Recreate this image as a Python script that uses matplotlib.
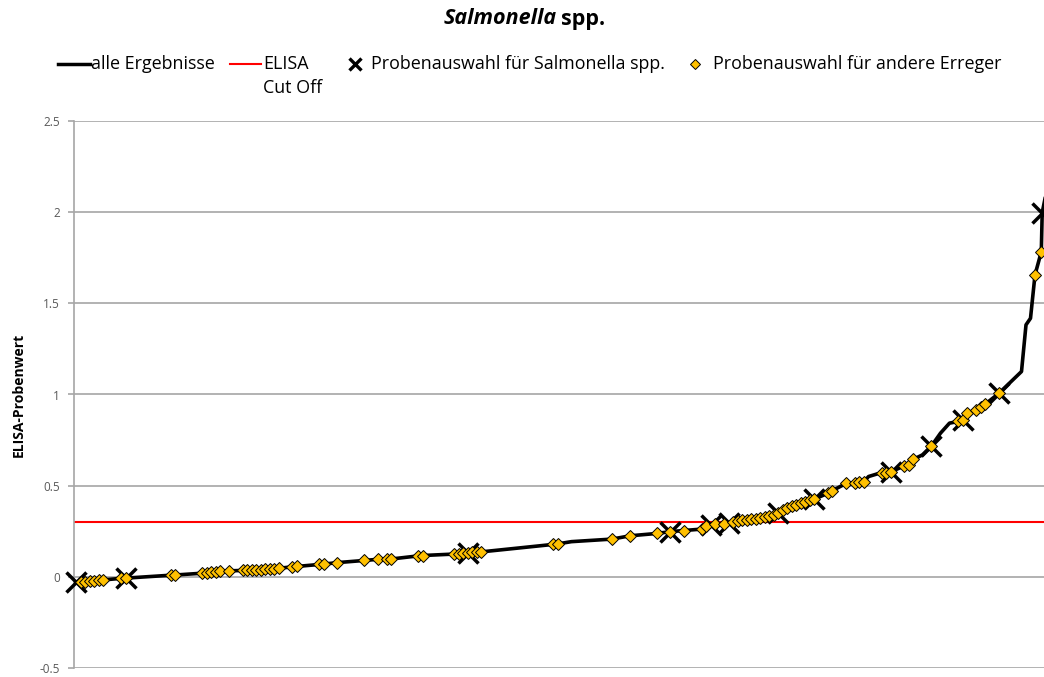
import numpy as np
import matplotlib
matplotlib.use("Agg")
import matplotlib.pyplot as plt
from matplotlib.lines import Line2D
from matplotlib.ticker import FuncFormatter

plt.rcParams['font.family'] = ['Open Sans', 'DejaVu Sans']

# Probenauswahl fuer Salmonella spp. (Rang, ELISA-Wert)
sal_x = [1, 12, 88, 133, 142, 146, 157, 165, 182, 191, 198, 206, 215.6]
sal_y = [-0.031, -0.007, 0.132, 0.248, 0.285, 0.296, 0.350, 0.426, 0.576, 0.718, 0.861, 1.007, 1.997]

# Probenauswahl fuer andere Erreger
other_x = [2, 3, 4, 5, 6, 7, 11, 12, 22, 23, 29, 30, 31, 32, 33, 35,
           38, 39, 40, 41, 42, 43, 44, 45, 46, 49, 50, 55, 56, 59, 65,
           68, 70, 71, 77, 78, 85, 86, 87, 88, 89, 90, 91, 107, 108,
           120, 124, 130, 133, 136, 140, 141, 143, 145, 147, 148, 149,
           150, 151, 152, 153, 154, 155, 156, 157, 158, 159, 160, 161,
           162, 163, 164, 165, 168, 169, 172, 174, 175, 176, 180, 181,
           182, 185, 186, 187, 191, 197, 198, 199, 201, 202, 203, 206,
           214, 215.4]
other_y = [-0.030, -0.028, -0.025, -0.022, -0.020, -0.017, -0.008, -0.007,
           0.009, 0.010, 0.020, 0.023, 0.026, 0.029, 0.032, 0.033,
           0.035, 0.036, 0.037, 0.038, 0.039, 0.041, 0.043, 0.045, 0.047,
           0.055, 0.057, 0.068, 0.070, 0.078, 0.090,
           0.096, 0.097, 0.098, 0.115, 0.117, 0.125, 0.127, 0.130, 0.132,
           0.134, 0.136, 0.137, 0.178, 0.181,
           0.207, 0.225, 0.238, 0.248, 0.254, 0.262, 0.280, 0.290, 0.292,
           0.300, 0.305, 0.309,
           0.312, 0.316, 0.318, 0.322, 0.326, 0.332, 0.340, 0.350, 0.364,
           0.377, 0.387, 0.394,
           0.405, 0.413, 0.420, 0.426, 0.459, 0.473, 0.512, 0.515, 0.518,
           0.521, 0.568, 0.572,
           0.576, 0.609, 0.614, 0.645, 0.718, 0.852, 0.861, 0.897, 0.916,
           0.934, 0.948, 1.007,
           1.656, 1.783]

# weitere Ergebnisse ohne Markierung (nur Linie)
rest_x = [100, 111, 177, 179, 189, 193, 195, 211, 212, 213, 217]
rest_y = [0.160, 0.193, 0.550, 0.565, 0.669, 0.788, 0.843, 1.126, 1.382, 1.418, 2.17]

cutoff = 0.3

# alle Ergebnisse sortiert
pts = {}
for xs, ys in [(rest_x, rest_y), (other_x, other_y), (sal_x, sal_y)]:
    for a, b in zip(xs, ys):
        pts[a] = b
all_x = sorted(pts)
all_y = [pts[k] for k in all_x]

fig = plt.figure(figsize=(10.44, 6.77), dpi=100)
ax = fig.add_axes([74/1044, 1 - 668/677, 1 - 74/1044, (668 - 121)/677])

ax.plot(all_x, all_y, color='black', lw=2.6, zorder=3, solid_joinstyle='round')
ax.axhline(cutoff, color='#FF0000', lw=1.5, zorder=2)
ax.plot(sal_x, sal_y, 'x', color='black', ms=15, mew=2.5, zorder=4, clip_on=False)
ax.plot(other_x, other_y, 'D', color='#FFC000', mec='black', mew=0.7, ms=6.3,
        zorder=5, clip_on=False)

ax.set_xlim(0.45, 216)
ax.set_ylim(-0.5, 2.5)
ax.set_yticks(np.arange(-0.5, 2.51, 0.5))
ax.yaxis.set_major_formatter(FuncFormatter(lambda v, p: '{:g}'.format(round(v, 2))))
ax.set_xticks([])
ax.grid(axis='y', color='#A6A6A6', lw=1.2)
ax.set_axisbelow(True)
for s in ['top', 'right', 'bottom']:
    ax.spines[s].set_visible(False)
ax.spines['left'].set_color('#A6A6A6')
ax.spines['left'].set_linewidth(1.2)
ax.tick_params(axis='y', length=4, width=1.2, color='#A6A6A6', labelsize=8.5,
               labelcolor='#595959', pad=6)

fig.text(19/1044, 1 - 394.5/677, 'ELISA-Probenwert', rotation=90, ha='center',
         va='center', fontsize=10, fontweight='bold')

# Titel
fig.text(557/1044, 1 - 19/677, 'Salmonella', ha='right', va='center', fontsize=15.5,
         fontweight='bold', style='italic')
fig.text(561/1044, 1 - 19/677, 'spp.', ha='left', va='center', fontsize=15.5,
         fontweight='bold')

# Legende
ly = 1 - 64/677
def fx(px):
    return px/1044
fs = 12.9
fig.add_artist(Line2D([fx(58), fx(90)], [ly, ly], color='black', lw=2.5))
fig.text(fx(91), ly, 'alle Ergebnisse', va='center', fontsize=fs)
fig.add_artist(Line2D([fx(230), fx(261)], [ly, ly], color='#FF0000', lw=1.5))
fig.text(fx(263), ly, 'ELISA', va='center', fontsize=fs)
fig.text(fx(263), 1 - 88/677, 'Cut Off', va='center', fontsize=fs)
fig.add_artist(Line2D([fx(355)], [ly], marker='x', color='black', ms=9, mew=2.4))
fig.text(fx(371), ly, 'Probenauswahl für Salmonella spp.', va='center', fontsize=fs)
fig.add_artist(Line2D([fx(695)], [ly], marker='D', color='#FFC000', mec='black',
                      mew=0.7, ms=5))
fig.text(fx(713), ly, 'Probenauswahl für andere Erreger', va='center', fontsize=fs)

fig.savefig('out.png', dpi=100)
